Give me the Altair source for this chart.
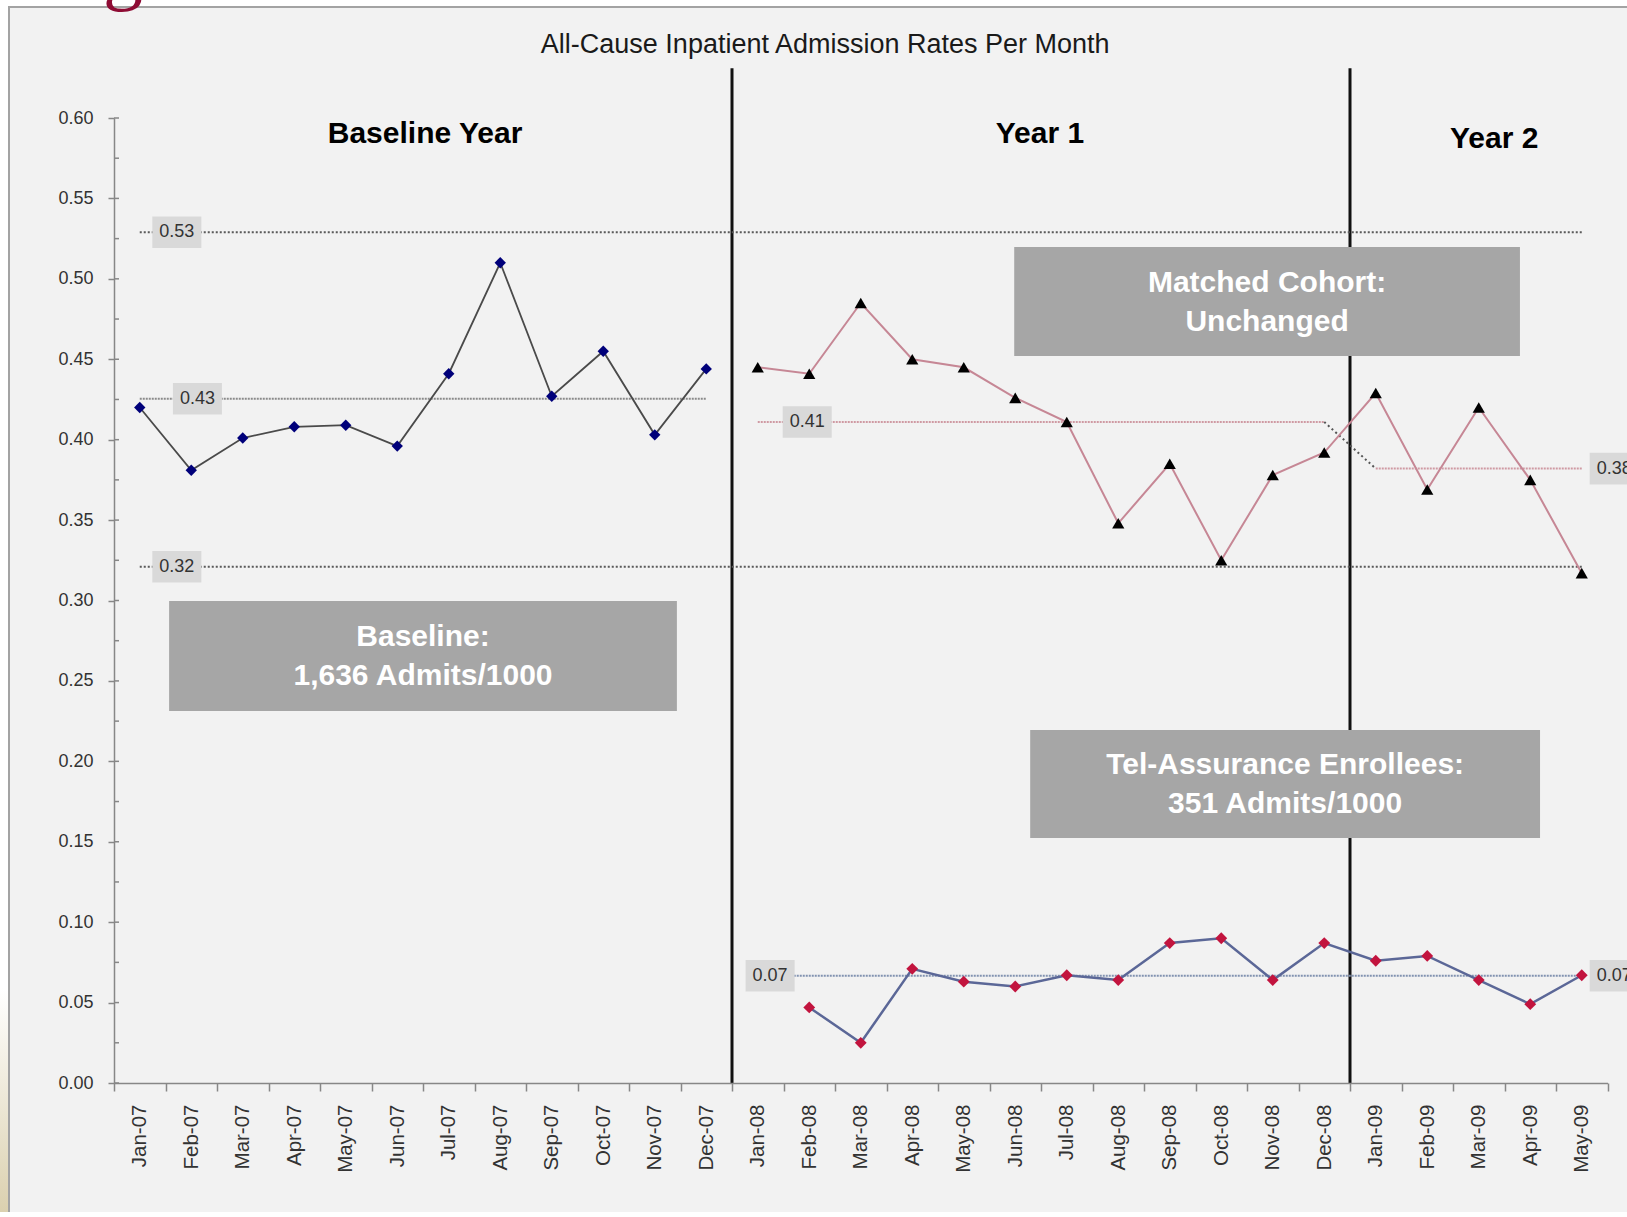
import altair as alt
import pandas as pd

# ---- data -------------------------------------------------------------
months = [
    "Jan-07", "Feb-07", "Mar-07", "Apr-07", "May-07", "Jun-07",
    "Jul-07", "Aug-07", "Sep-07", "Oct-07", "Nov-07", "Dec-07",
    "Jan-08", "Feb-08", "Mar-08", "Apr-08", "May-08", "Jun-08",
    "Jul-08", "Aug-08", "Sep-08", "Oct-08", "Nov-08", "Dec-08",
    "Jan-09", "Feb-09", "Mar-09", "Apr-09", "May-09",
]

# Baseline year, Jan-07 .. Dec-07
baseline_rate = [0.420, 0.381, 0.401, 0.408, 0.409, 0.396,
                 0.441, 0.510, 0.427, 0.455, 0.403, 0.444]
# Matched cohort, Jan-08 .. May-09
cohort_rate = [0.445, 0.441, 0.485, 0.450, 0.445, 0.426, 0.411, 0.348,
               0.385, 0.325, 0.378, 0.392, 0.429, 0.369, 0.420, 0.375, 0.317]
# Tel-Assurance enrollees, Feb-08 .. May-09
enrollee_rate = [0.047, 0.025, 0.071, 0.063, 0.060, 0.067, 0.064, 0.087,
                 0.090, 0.064, 0.087, 0.076, 0.079, 0.064, 0.049, 0.067]

# control limits and period means: (value, first month index, last month index)
upper_limit = (0.529, 0, 28)
lower_limit = (0.321, 0, 28)
baseline_mean = (0.4255, 0, 11)
year1_mean = (0.411, 12, 23)
year2_mean = (0.382, 24, 28)
enrollee_mean = (0.0667, 12, 28)

period_breaks = [11.5, 23.5]
y_ticks = [round(i * 0.05, 2) for i in range(13)]
y_minor = [round(i * 0.025, 3) for i in range(25)]

# ---- layout / style --------------------------------------------------
W, H = 1493.5, 965
PAD = {"left": 114, "top": 118, "right": 19.5, "bottom": 129}
SANS = "Liberation Sans, Arial, sans-serif"
GRID_GRAY = "#878787"

XS = alt.Scale(domain=[-0.5, 28.5], nice=False, zero=False)
YS = alt.Scale(domain=[0, 0.6], nice=False, zero=False)


def xq(field):
    return alt.X(f"{field}:Q", scale=XS, axis=None)


def yq(field):
    return alt.Y(f"{field}:Q", scale=YS, axis=None)


one = pd.DataFrame({"a": [0]})

# chart frame and slide decorations
frame = alt.Chart(one).mark_rect(
    fill="#f2f2f2", stroke="#a3a3a3", strokeWidth=2
).encode(
    x=alt.value(-105), x2=alt.value(W + 80),
    y=alt.value(-111), y2=alt.value(H + 200),
)
side_strip = alt.Chart(one).mark_rect().encode(
    x=alt.value(-114), x2=alt.value(-106),
    y=alt.value(870), y2=alt.value(H + 140),
    fill=alt.value({
        "gradient": "linear", "x1": 0, "y1": 0, "x2": 0, "y2": 1,
        "stops": [{"offset": 0, "color": "#ffffff"},
                  {"offset": 1, "color": "#d9ceab"}],
    }),
)
slide_glyph = alt.Chart(one).mark_text(
    text="g", font="Liberation Serif", fontSize=80, color="#8e0c34",
    align="center", baseline="alphabetic",
).encode(x=alt.value(9), y=alt.value(-123))

# vertical period separators
breaks_df = pd.DataFrame({"x": period_breaks, "y0": 0.0, "y1": 0.631})
separators = alt.Chart(breaks_df).mark_rule(color="#111111", strokeWidth=3).encode(
    x=xq("x"), y=yq("y0"), y2="y1"
)


def ref_line(spec, color, dash, width=2):
    v, a, b = spec
    d = pd.DataFrame({"x": [a], "x2": [b], "v": [v]})
    return alt.Chart(d).mark_rule(color=color, strokeDash=dash, strokeWidth=width).encode(
        x=xq("x"), x2="x2", y=yq("v")
    )


limit_lines = [
    ref_line(upper_limit, "#5a5a5a", [2, 2]),
    ref_line(lower_limit, "#5a5a5a", [2, 2]),
]
mean_lines = [
    ref_line(baseline_mean, "#8a8a8a", [2, 1]),
    ref_line(year1_mean, "#cf9aa3", [2, 1]),
    ref_line(year2_mean, "#cf9aa3", [2, 1]),
    ref_line(enrollee_mean, "#8192b0", [2, 1]),
]
step_df = pd.DataFrame({"x": [year1_mean[2]], "x2": [year2_mean[1]],
                        "v": [year1_mean[0]], "v2": [year2_mean[0]]})
step_link = alt.Chart(step_df).mark_rule(
    color="#555555", strokeDash=[2, 3], strokeWidth=2
).encode(x=xq("x"), x2="x2", y=yq("v"), y2="v2")

# value tags on the limit / mean lines
tag_df = pd.DataFrame({
    "v": [upper_limit[0], lower_limit[0], baseline_mean[0], year1_mean[0],
          year2_mean[0], enrollee_mean[0], enrollee_mean[0]],
    "cx": [0.72, 0.72, 1.12, 12.96, 28.63, 12.24, 28.63],
})
tag_base = alt.Chart(tag_df).transform_calculate(
    xa="datum.cx - 0.476", xb="datum.cx + 0.476",
    ya="datum.v - 0.0098", yb="datum.v + 0.0098",
)
tag_boxes = tag_base.mark_rect(fill="#d9d9d9").encode(
    x=xq("xa"), x2="xb", y=yq("ya"), y2="yb"
)
tag_text = tag_base.mark_text(
    font=SANS, fontSize=18, color="#333333", align="center", baseline="middle"
).encode(x=xq("cx"), y=yq("v"), text=alt.Text("v:Q", format=".2f"))

# grey call-out boxes
callout_df = pd.DataFrame({
    "x1": [0.57, 16.98, 17.29], "x2": [10.43, 26.80, 27.19],
    "y1": [0.2313, 0.452, 0.1523], "y2": [0.2997, 0.5198, 0.2195],
    "label": ["Baseline:\n1,636 Admits/1000",
              "Matched Cohort:\nUnchanged",
              "Tel-Assurance Enrollees:\n351 Admits/1000"],
}).assign(cx=lambda d: (d.x1 + d.x2) / 2,
          ty=lambda d: (d.y1 + d.y2) / 2 + 0.0118)
callouts = alt.Chart(callout_df).mark_rect(fill="#a6a6a6").encode(
    x=xq("x1"), x2="x2", y=yq("y1"), y2="y2"
)
callout_text = alt.Chart(callout_df).mark_text(
    font=SANS, fontSize=30, fontWeight="bold", color="#ffffff",
    lineBreak="\n", lineHeight=39, align="center", baseline="middle",
).encode(x=xq("cx"), y=yq("ty"), text="label:N")

# period headings and chart title
heading_df = pd.DataFrame({
    "x": [5.54, 17.48, 26.3], "y": [0.590, 0.590, 0.587],
    "label": ["Baseline Year", "Year 1", "Year 2"],
})
headings = alt.Chart(heading_df).mark_text(
    font=SANS, fontSize=30, fontWeight="bold", color="#000000",
    align="center", baseline="middle",
).encode(x=xq("x"), y=yq("y"), text="label:N")

title_df = pd.DataFrame({"x": [13.31], "y": [0.6455],
                         "label": ["All-Cause Inpatient Admission Rates Per Month"]})
title = alt.Chart(title_df).mark_text(
    font=SANS, fontSize=27, color="#1a1a1a", align="center", baseline="middle"
).encode(x=xq("x"), y=yq("y"), text="label:N")

# minor y ticks inside the axis
minor_df = pd.DataFrame({"v": y_minor})
minor_ticks = alt.Chart(minor_df).mark_rule(color=GRID_GRAY, strokeWidth=1.5).encode(
    x=alt.value(0), x2=alt.value(5), y=yq("v")
)

# data series
base_df = pd.DataFrame({"i": range(0, 12), "rate": baseline_rate})
cohort_df = pd.DataFrame({"i": range(12, 29), "rate": cohort_rate})
enroll_df = pd.DataFrame({"i": range(13, 29), "rate": enrollee_rate})


def series(df, line_color, line_width, shape, fill, size):
    enc = dict(x=xq("i"), y=yq("rate"))
    line = alt.Chart(df).mark_line(color=line_color, strokeWidth=line_width).encode(**enc)
    pts = alt.Chart(df).mark_point(
        shape=shape, filled=True, fill=fill, opacity=1, size=size, strokeWidth=0
    ).encode(**enc)
    return [line, pts]


series_layers = (
    series(base_df, "#4a4a4a", 1.8, "diamond", "#00007a", 130)
    + series(cohort_df, "#c68795", 2, "triangle-up", "#000000", 150)
    + series(enroll_df, "#5b6797", 2.5, "diamond", "#c2143e", 140)
)

# month / rate axes (drawn above the frame)
axis_df = pd.DataFrame({"month": months, "v": 0.0})
axes = alt.Chart(axis_df).mark_point(opacity=0).encode(
    x=alt.X(
        "month:N", sort=months,
        scale=alt.Scale(type="band", paddingInner=0, paddingOuter=0),
        axis=alt.Axis(
            title=None, orient="bottom", labelAngle=-90, tickBand="extent",
            labelFont=SANS, labelFontSize=20.5, labelColor="#333333",
            labelPadding=13, labelOverlap=False, tickSize=8, tickWidth=1.5,
            tickColor=GRID_GRAY, domainColor=GRID_GRAY, domainWidth=1.5,
            grid=False, zindex=2,
        ),
    ),
    y=alt.Y(
        "v:Q", scale=YS,
        axis=alt.Axis(
            title=None, orient="left", values=y_ticks, format=".2f", labelFont=SANS,
            labelFontSize=18, labelColor="#333333", labelPadding=15,
            labelFlush=False, labelOverlap=False, tickSize=6, tickWidth=1.5,
            tickColor=GRID_GRAY, domainColor=GRID_GRAY, domainWidth=1.5,
            grid=False, zindex=2,
        ),
    ),
)

plot = alt.layer(
    frame, side_strip, slide_glyph, separators, *limit_lines, *mean_lines, step_link,
    tag_boxes, tag_text, callouts, callout_text, headings, title, minor_ticks,
    *series_layers,
)

chart = alt.layer(axes, plot).resolve_scale(x="independent").resolve_axis(
    y="independent"
).properties(
    width=W, height=H, padding=PAD, autosize=alt.AutoSizeParams(type="none"),
    background="#ffffff",
).configure_view(stroke=None)

chart.save("out.html", embed_options={"renderer": "svg", "actions": False})
